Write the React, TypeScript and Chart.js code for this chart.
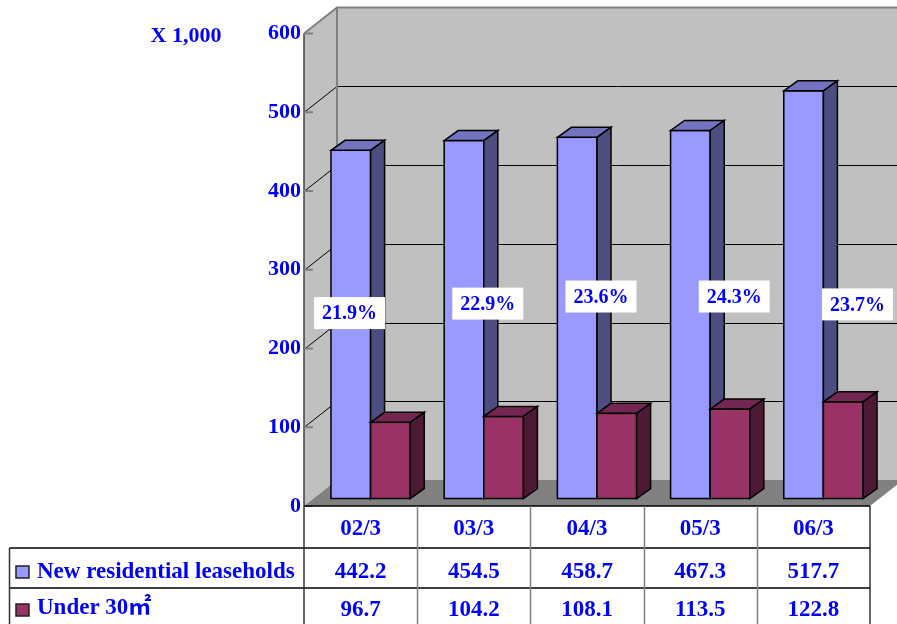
import React, { useEffect, useRef } from "react";
import { Chart, registerables } from "chart.js";

Chart.register(...registerables);

// ---------- data ----------
const categories = ["02/3", "03/3", "04/3", "05/3", "06/3"];
const leaseholds = [442.2, 454.5, 458.7, 467.3, 517.7];
const under30 = [96.7, 104.2, 108.1, 113.5, 122.8];
const shareLabels = ["21.9%", "22.9%", "23.6%", "24.3%", "23.7%"];
const seriesNames = ["New residential leaseholds", "Under 30㎡"];
const yMax = 600;
const yStep = 100;
const unitLabel = "X 1,000";

// ---------- layout / style (not data) ----------
const FONT = "'Liberation Serif', 'Times New Roman', 'Noto Sans CJK JP', serif";
const BLUE_TEXT = "#0000FF";
const WALL_DX = 33;
const WALL_DY = -26;
const BAR_DX = 10;
const BAR_DY = -7.5;
const BOX_DX = 14;
const BOX_DY = -10;
const LABEL_OFFSET_X = [-11, 14, 14, 34, 44];
const LABEL_AT = [245, 257, 266, 266, 256];
const FACE_COLORS = [
  { front: "#9999FF", top: "#7373BF", side: "#4D4D80" },
  { front: "#993366", top: "#732650", side: "#4D1A33" },
];

const threeD = {
  id: "threeD",
  beforeDatasetsDraw(chart: any) {
    const { ctx, chartArea: a } = chart;
    const y = chart.scales.y;
    const W = chart.width;
    ctx.save();
    // left wall
    ctx.fillStyle = "#C0C0C0";
    ctx.beginPath();
    ctx.moveTo(a.left, a.top);
    ctx.lineTo(a.left + WALL_DX, a.top + WALL_DY);
    ctx.lineTo(a.left + WALL_DX, a.bottom + WALL_DY);
    ctx.lineTo(a.left, a.bottom);
    ctx.closePath();
    ctx.fill();
    // back wall
    ctx.fillRect(a.left + WALL_DX, a.top + WALL_DY, W - (a.left + WALL_DX) + 5, a.bottom - a.top);
    // floor
    ctx.fillStyle = "#808080";
    ctx.beginPath();
    ctx.moveTo(a.left, a.bottom);
    ctx.lineTo(a.left + WALL_DX, a.bottom + WALL_DY);
    ctx.lineTo(a.right + WALL_DX, a.bottom + WALL_DY);
    ctx.lineTo(a.right, a.bottom);
    ctx.closePath();
    ctx.fill();
    // gridlines
    ctx.strokeStyle = "#000";
    ctx.lineWidth = 1;
    for (let v = yStep; v < yMax; v += yStep) {
      const py = Math.round(y.getPixelForValue(v)) + 0.5;
      ctx.beginPath();
      ctx.moveTo(a.left, py);
      ctx.lineTo(a.left + WALL_DX, py + WALL_DY);
      ctx.lineTo(W + 5, py + WALL_DY);
      ctx.stroke();
    }
    // wall edges
    ctx.strokeStyle = "#808080";
    ctx.lineWidth = 2;
    ctx.beginPath();
    ctx.moveTo(a.left, a.top);
    ctx.lineTo(a.left + WALL_DX, a.top + WALL_DY);
    ctx.lineTo(W + 5, a.top + WALL_DY);
    ctx.moveTo(a.left + WALL_DX, a.top + WALL_DY);
    ctx.lineTo(a.left + WALL_DX, a.bottom + WALL_DY);
    ctx.stroke();
    // axis line
    ctx.strokeStyle = "#404040";
    ctx.lineWidth = 1.5;
    ctx.beginPath();
    ctx.moveTo(a.left, a.top);
    ctx.lineTo(a.left, a.bottom);
    ctx.stroke();
    // tick stubs
    ctx.strokeStyle = "#808080";
    ctx.lineWidth = 2;
    for (let v = 0; v <= yMax; v += yStep) {
      const py = y.getPixelForValue(v);
      ctx.beginPath();
      ctx.moveTo(a.left, py);
      ctx.lineTo(a.left + 9, py);
      ctx.stroke();
    }
    ctx.restore();
    ctx.save();
    ctx.translate(BAR_DX, BAR_DY);
  },
  afterDatasetsDraw(chart: any) {
    const { ctx } = chart;
    const metas = [chart.getDatasetMeta(0), chart.getDatasetMeta(1)];
    ctx.lineWidth = 1.5;
    ctx.strokeStyle = "#000";
    ctx.lineJoin = "miter";
    const n = metas[0].data.length;
    for (let i = 0; i < n; i++) {
      metas.forEach((meta: any, k: number) => {
        const el = meta.data[i];
        const { x, y, base, width } = el.getProps(["x", "y", "base", "width"], true);
        const c = FACE_COLORS[k];
        const l = x - width / 2;
        const r = x + width / 2;
        // front
        ctx.fillStyle = c.front;
        ctx.fillRect(l, y, r - l, base - y);
        ctx.strokeRect(l, y, r - l, base - y);
        // top
        ctx.fillStyle = c.top;
        ctx.beginPath();
        ctx.moveTo(l, y);
        ctx.lineTo(l + BOX_DX, y + BOX_DY);
        ctx.lineTo(r + BOX_DX, y + BOX_DY);
        ctx.lineTo(r, y);
        ctx.closePath();
        ctx.fill();
        ctx.stroke();
        // side
        ctx.fillStyle = c.side;
        ctx.beginPath();
        ctx.moveTo(r, y);
        ctx.lineTo(r + BOX_DX, y + BOX_DY);
        ctx.lineTo(r + BOX_DX, base + BOX_DY);
        ctx.lineTo(r, base);
        ctx.closePath();
        ctx.fill();
        ctx.stroke();
      });
    }
    ctx.restore();

    // share labels
    const xs = chart.scales.x;
    const ys = chart.scales.y;
    ctx.save();
    ctx.font = `bold 20px ${FONT}`;
    ctx.textAlign = "center";
    ctx.textBaseline = "middle";
    shareLabels.forEach((t, i) => {
      const cx = xs.getPixelForValue(i) + LABEL_OFFSET_X[i];
      const cy = ys.getPixelForValue(LABEL_AT[i]);
      ctx.fillStyle = "#FFFFFF";
      ctx.fillRect(cx - 35.5, cy - 16, 71, 32);
      ctx.fillStyle = BLUE_TEXT;
      ctx.fillText(t, cx, cy + 1);
    });
    ctx.restore();
  },
  afterDraw(chart: any) {
    const { ctx, chartArea: a } = chart;
    const xs = chart.scales.x;
    const n = categories.length;
    const colW = (a.right - a.left) / n;
    const rowTop = [a.bottom, 548, 588];
    const tableBottom = chart.height + 2;
    const leftEdge = 9.5;
    ctx.save();
    // horizontal lines
    ctx.strokeStyle = "#000";
    ctx.lineWidth = 1.5;
    ctx.beginPath();
    ctx.moveTo(a.left, rowTop[0]);
    ctx.lineTo(a.right, rowTop[0]);
    ctx.moveTo(leftEdge, rowTop[1]);
    ctx.lineTo(a.right, rowTop[1]);
    ctx.moveTo(leftEdge, rowTop[2]);
    ctx.lineTo(a.right, rowTop[2]);
    ctx.stroke();
    // vertical lines
    ctx.strokeStyle = "#808080";
    ctx.lineWidth = 1.5;
    ctx.beginPath();
    for (let i = 1; i < n; i++) {
      const vx = Math.round(a.left + i * colW) + 0.5;
      ctx.moveTo(vx, rowTop[0]);
      ctx.lineTo(vx, tableBottom);
    }
    ctx.stroke();
    ctx.strokeStyle = "#333";
    ctx.beginPath();
    ctx.moveTo(a.left, rowTop[0]);
    ctx.lineTo(a.left, tableBottom);
    ctx.moveTo(a.right, rowTop[0]);
    ctx.lineTo(a.right, tableBottom);
    ctx.moveTo(leftEdge, rowTop[1]);
    ctx.lineTo(leftEdge, tableBottom);
    ctx.stroke();

    // texts
    ctx.fillStyle = BLUE_TEXT;
    ctx.font = `bold 23px ${FONT}`;
    ctx.textAlign = "center";
    ctx.textBaseline = "alphabetic";
    categories.forEach((c, i) => {
      ctx.fillText(c, xs.getPixelForValue(i), 535);
    });
    leaseholds.forEach((v, i) => {
      ctx.fillText(v.toFixed(1), xs.getPixelForValue(i), 578);
    });
    under30.forEach((v, i) => {
      ctx.fillText(v.toFixed(1), xs.getPixelForValue(i), 616);
    });
    // legend
    ctx.textAlign = "left";
    const keyY = [566, 604];
    seriesNames.forEach((s, k) => {
      ctx.fillStyle = FACE_COLORS[k].front;
      ctx.fillRect(16, keyY[k], 13, 12);
      ctx.strokeStyle = "#222";
      ctx.lineWidth = 1.5;
      ctx.strokeRect(16, keyY[k], 13, 12);
      ctx.fillStyle = BLUE_TEXT;
      ctx.fillText(s, 37, k === 0 ? 578 : 614);
    });
    // unit label
    ctx.font = `bold 22px ${FONT}`;
    ctx.textAlign = "center";
    ctx.fillText(unitLabel, 186, 42);
    ctx.restore();
  },
};

export default function App() {
  const ref = useRef<HTMLCanvasElement | null>(null);
  useEffect(() => {
    if (!ref.current) return;
    const chart = new Chart(ref.current, {
      type: "bar",
      data: {
        labels: categories,
        datasets: [
          {
            label: seriesNames[0],
            data: leaseholds,
            backgroundColor: FACE_COLORS[0].front,
            borderColor: "#000",
            borderWidth: 1.5,
            categoryPercentage: 0.7,
            barPercentage: 1.0,
            clip: false as any,
          },
          {
            label: seriesNames[1],
            data: under30,
            backgroundColor: FACE_COLORS[1].front,
            borderColor: "#000",
            borderWidth: 1.5,
            categoryPercentage: 0.7,
            barPercentage: 1.0,
            clip: false as any,
          },
        ],
      },
      options: {
        animation: false,
        responsive: true,
        maintainAspectRatio: false,
        layout: { padding: { top: 33.5, right: 27, bottom: 118, left: 0 } },
        plugins: {
          legend: { display: false },
          tooltip: { enabled: false },
        },
        scales: {
          x: { display: false },
          y: {
            min: 0,
            max: yMax,
            afterFit: (scale: any) => {
              scale.width = 304;
            },
            ticks: {
              stepSize: yStep,
              padding: 3,
              color: BLUE_TEXT,
              font: { family: FONT, size: 22, weight: "bold" },
            },
            grid: { display: false, drawTicks: false },
            border: { display: false },
          },
        },
      },
      plugins: [threeD],
    });
    return () => chart.destroy();
  }, []);
  return (
    <div style={{ position: "absolute", left: 0, top: 0, width: 897, height: 624, background: "#fff" }}>
      <canvas ref={ref} />
    </div>
  );
}
